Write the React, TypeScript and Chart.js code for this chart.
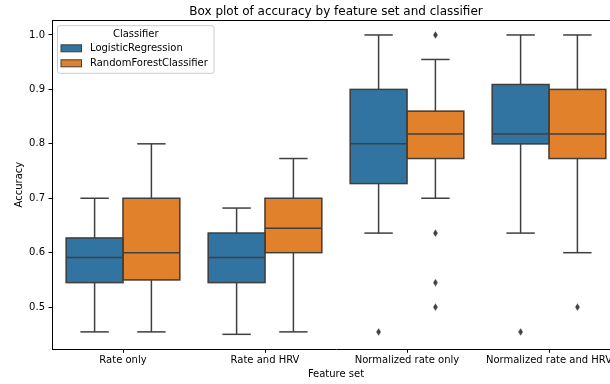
import React, { useEffect, useRef } from 'react';
import { Chart, registerables } from 'chart.js';

Chart.register(...registerables);

const categories = ['Rate only', 'Rate and HRV', 'Normalized rate only', 'Normalized rate and HRV'];
const classifiers = ['LogisticRegression', 'RandomForestClassifier'];

const lrWhiskerLow = [0.4545, 0.45, 0.636, 0.636];
const lrQ1 = [0.545, 0.545, 0.727, 0.8];
const lrMedian = [0.591, 0.591, 0.8, 0.818];
const lrQ3 = [0.627, 0.636, 0.9, 0.909];
const lrWhiskerHigh = [0.7, 0.682, 1.0, 1.0];
const lrOutliers = [[], [], [0.4545], [0.4545]];

const rfWhiskerLow = [0.4545, 0.4545, 0.7, 0.6];
const rfQ1 = [0.55, 0.6, 0.773, 0.773];
const rfMedian = [0.6, 0.645, 0.818, 0.818];
const rfQ3 = [0.7, 0.7, 0.86, 0.9];
const rfWhiskerHigh = [0.8, 0.773, 0.955, 1.0];
const rfOutliers = [[], [], [1.0, 0.636, 0.545, 0.5], [0.5]];

const yTicks = [0.5, 0.6, 0.7, 0.8, 0.9, 1.0];

const BLUE = '#3274a1';
const ORANGE = '#e1812c';
const LINE = '#3f3f3f';
const FONT = "'DejaVu Sans', sans-serif";
const TEXT = '#000';
const HUE_OFFSET = 0.2;

export default function App() {
  const ref = useRef<HTMLCanvasElement>(null);

  useEffect(() => {
    document.body.style.margin = '0';
    const canvas = ref.current!;

    const marker = document.createElement('canvas');
    marker.width = 5;
    marker.height = 8;
    const mctx = marker.getContext('2d')!;
    mctx.fillStyle = LINE;
    mctx.beginPath();
    mctx.moveTo(2.5, 0.3);
    mctx.lineTo(4.8, 4);
    mctx.lineTo(2.5, 7.7);
    mctx.lineTo(0.2, 4);
    mctx.closePath();
    mctx.fill();

    const outlierPoints = (outs: number[][], offset: number) =>
      outs.flatMap((arr, i) => arr.map((v) => ({ x: i + offset, y: v })));
    const boxData = (q1: number[], q3: number[], offset: number) =>
      q1.map((q, i) => ({ x: i + offset, y: [q, q3[i]] }));

    const stats = [
      { lo: lrWhiskerLow, q1: lrQ1, med: lrMedian, q3: lrQ3, hi: lrWhiskerHigh },
      { lo: rfWhiskerLow, q1: rfQ1, med: rfMedian, q3: rfQ3, hi: rfWhiskerHigh },
    ];

    const boxPlugin = {
      id: 'boxExtras',
      afterDatasetsDraw(chart: any) {
        const ctx = chart.ctx;
        const y = chart.scales.y;
        const line = (x1: number, y1: number, x2: number, y2: number) => {
          ctx.beginPath();
          ctx.moveTo(x1, y1);
          ctx.lineTo(x2, y2);
          ctx.stroke();
        };
        ctx.save();
        ctx.strokeStyle = LINE;
        ctx.lineWidth = 1.5;
        stats.forEach((s, d) => {
          chart.getDatasetMeta(d).data.forEach((bar: any, i: number) => {
            const { x, width } = bar.getProps(['x', 'width'], true);
            const half = width / 2;
            const cap = width / 4;
            const pLo = y.getPixelForValue(s.lo[i]);
            const pQ1 = y.getPixelForValue(s.q1[i]);
            const pMed = y.getPixelForValue(s.med[i]);
            const pQ3 = y.getPixelForValue(s.q3[i]);
            const pHi = y.getPixelForValue(s.hi[i]);
            line(x, pQ1, x, pLo);
            line(x - cap, pLo, x + cap, pLo);
            line(x, pQ3, x, pHi);
            line(x - cap, pHi, x + cap, pHi);
            ctx.strokeRect(x - half, pQ3, width, pQ1 - pQ3);
            line(x - half, pMed, x + half, pMed);
          });
        });
        ctx.restore();
      },
      afterDraw(chart: any) {
        const { ctx, chartArea } = chart;
        ctx.save();
        // top spine
        ctx.strokeStyle = '#000';
        ctx.lineWidth = 1;
        ctx.beginPath();
        ctx.moveTo(chartArea.left, chartArea.top + 0.5);
        ctx.lineTo(chartArea.right, chartArea.top + 0.5);
        ctx.stroke();
        // title
        ctx.fillStyle = TEXT;
        ctx.font = `12px ${FONT}`;
        ctx.textAlign = 'center';
        ctx.textBaseline = 'alphabetic';
        ctx.fillText('Box plot of accuracy by feature set and classifier', (chartArea.left + chartArea.right) / 2, 14.5);
        // legend
        const bx = chartArea.left + 5.5;
        const by = chartArea.top + 5.7;
        const bw = 156.5;
        const bh = 47.6;
        ctx.beginPath();
        ctx.roundRect(bx, by, bw, bh, 2);
        ctx.fillStyle = 'rgba(255,255,255,0.8)';
        ctx.fill();
        ctx.strokeStyle = '#cccccc';
        ctx.lineWidth = 1;
        ctx.stroke();
        ctx.font = `10px ${FONT}`;
        ctx.fillStyle = TEXT;
        ctx.textBaseline = 'middle';
        ctx.fillText('Classifier', bx + bw / 2, by + 8.3);
        chart.data.datasets.slice(0, 2).forEach((ds: any, i: number) => {
          const cy = by + 22.6 + i * 15;
          ctx.fillStyle = ds.backgroundColor;
          ctx.fillRect(bx + 3.5, cy - 3.5, 20.5, 7);
          ctx.strokeStyle = LINE;
          ctx.lineWidth = 1;
          ctx.strokeRect(bx + 3.5, cy - 3.5, 20.5, 7);
          ctx.fillStyle = TEXT;
          ctx.textAlign = 'left';
          ctx.fillText(ds.label, bx + 32.5, cy);
        });
        ctx.restore();
      },
    };

    const font = { family: FONT, size: 10 };

    const chart = new Chart(canvas, {
      type: 'bar',
      data: {
        datasets: [
          {
            label: classifiers[0],
            data: boxData(lrQ1, lrQ3, -HUE_OFFSET),
            backgroundColor: BLUE,
            borderWidth: 0,
            grouped: false,
            barPercentage: 1,
            categoryPercentage: 1,
            order: 2,
          },
          {
            label: classifiers[1],
            data: boxData(rfQ1, rfQ3, HUE_OFFSET),
            backgroundColor: ORANGE,
            borderWidth: 0,
            grouped: false,
            barPercentage: 1,
            categoryPercentage: 1,
            order: 2,
          },
          {
            type: 'scatter',
            label: 'outliers',
            data: [...outlierPoints(lrOutliers, -HUE_OFFSET), ...outlierPoints(rfOutliers, HUE_OFFSET)],
            pointStyle: marker,
            pointRadius: 4,
            backgroundColor: LINE,
            order: 1,
          } as any,
        ],
      },
      options: {
        responsive: false,
        animation: false,
        events: [],
        layout: { padding: { top: 20, right: 10, left: 0, bottom: 0 } },
        plugins: {
          legend: { display: false },
          tooltip: { enabled: false },
          title: { display: false },
        },
        scales: {
          x: {
            type: 'linear',
            min: -0.5,
            max: 3.5,
            offset: false,
            afterBuildTicks: (s: any) => {
              s.ticks = categories.map((_, i) => ({ value: i }));
            },
            grid: { offset: false, drawOnChartArea: false, drawTicks: true, tickLength: 3.5, color: '#000' },
            border: { display: true, color: '#000', width: 1 },
            ticks: {
              font,
              color: TEXT,
              padding: 2,
              maxRotation: 0,
              autoSkip: false,
              callback: (v: any) => categories[Math.round(Number(v))],
            },
            title: { display: true, text: 'Feature set', font, color: TEXT, padding: { top: 0, bottom: 4 } },
            afterFit: (s: any) => {
              s.height = 34.7;
            },
          },
          y: {
            type: 'linear',
            min: 0.4225,
            max: 1.0275,
            afterBuildTicks: (s: any) => {
              s.ticks = yTicks.map((v) => ({ value: v }));
            },
            ticks: { font, color: TEXT, padding: 3.5, callback: (v: any) => Number(v).toFixed(1) },
            grid: { drawOnChartArea: false, drawTicks: true, tickLength: 3.5, color: '#000' },
            border: { display: true, color: '#000', width: 1 },
            title: { display: true, text: 'Accuracy', font, color: TEXT, padding: { top: 13, bottom: 0 } },
            afterFit: (s: any) => {
              s.width = 52;
            },
          },
        },
      } as any,
      plugins: [boxPlugin],
    });

    return () => chart.destroy();
  }, []);

  return (
    <div style={{ width: 610, height: 384, overflow: 'hidden', position: 'relative', background: '#fff' }}>
      <canvas ref={ref} width={630} height={384} style={{ width: 630, height: 384, display: 'block' }} />
    </div>
  );
}
